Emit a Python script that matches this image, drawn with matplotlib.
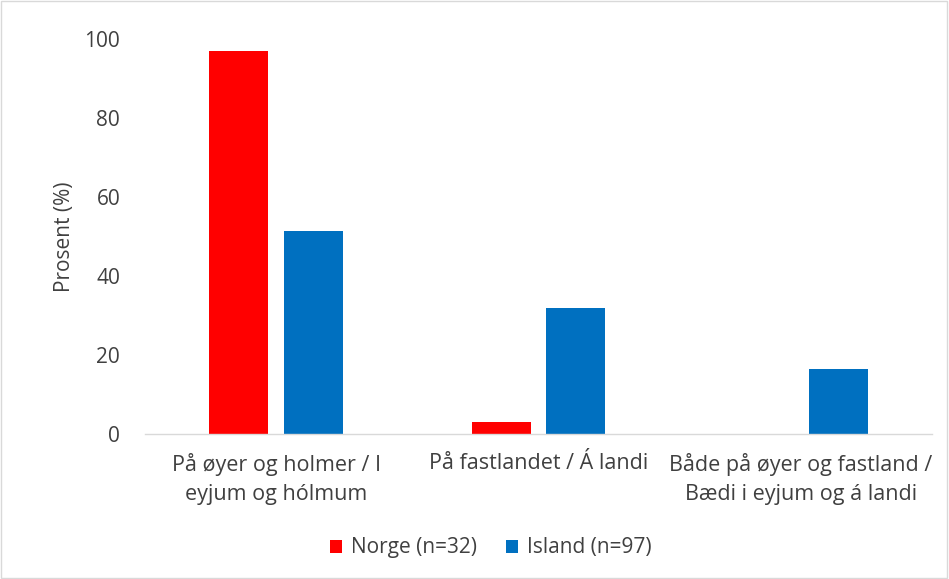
import matplotlib.pyplot as plt
import numpy as np
from matplotlib.patches import Rectangle

plt.rcParams['font.family'] = ['Open Sans', 'DejaVu Sans']

categories = ['På øyer og holmer / I\neyjum og hólmum',
              'På fastlandet / Á landi',
              'Både på øyer og fastland /\nBædi i eyjum og á landi']
norge = [96.9, 3.1, 0.0]
island = [51.5, 32.0, 16.5]
series_names = ['Norge (n=32)', 'Island (n=97)']
colors = ['#FF0000', '#0070C0']
yticks = [0, 20, 40, 60, 80, 100]

fig = plt.figure(figsize=(9.49, 5.79), dpi=100)
ax = fig.add_axes([0.153, 0.2504, 0.829, 0.682])

x = np.arange(len(categories))
w = 0.225
gap = 0.06
ax.bar(x - (w + gap) / 2, norge, w, color=colors[0], label=series_names[0])
ax.bar(x + (w + gap) / 2, island, w, color=colors[1], label=series_names[1])

ax.set_xlim(-0.5, 2.5)
ax.set_ylim(0, 100)
ax.set_yticks(yticks)
ax.set_xticks(x)
ax.set_xticklabels(categories, fontsize=15.5, color='#404040', linespacing=1.45)
ax.tick_params(axis='y', labelsize=15, labelcolor='#404040', length=0, pad=18)
ax.tick_params(axis='x', length=0, pad=14)
ax.set_ylabel('Prosent (%)', fontsize=15, color='#404040', labelpad=7)

for s in ['top', 'right', 'left']:
    ax.spines[s].set_visible(False)
ax.spines['bottom'].set_color('#D9D9D9')
ax.spines['bottom'].set_linewidth(1)

ax.legend(loc='center', bbox_to_anchor=(0.517, 1 - 548 / 579), bbox_transform=fig.transFigure,
          ncol=2, frameon=False, fontsize=15, handlelength=0.6, handleheight=0.6,
          columnspacing=1.4, handletextpad=0.4, labelcolor='#404040')

fig.patches.append(Rectangle((0.001, 0.001), 0.997, 0.997, transform=fig.transFigure,
                             fill=False, edgecolor='#D9D9D9', linewidth=1))

fig.savefig('out.png', dpi=100)
